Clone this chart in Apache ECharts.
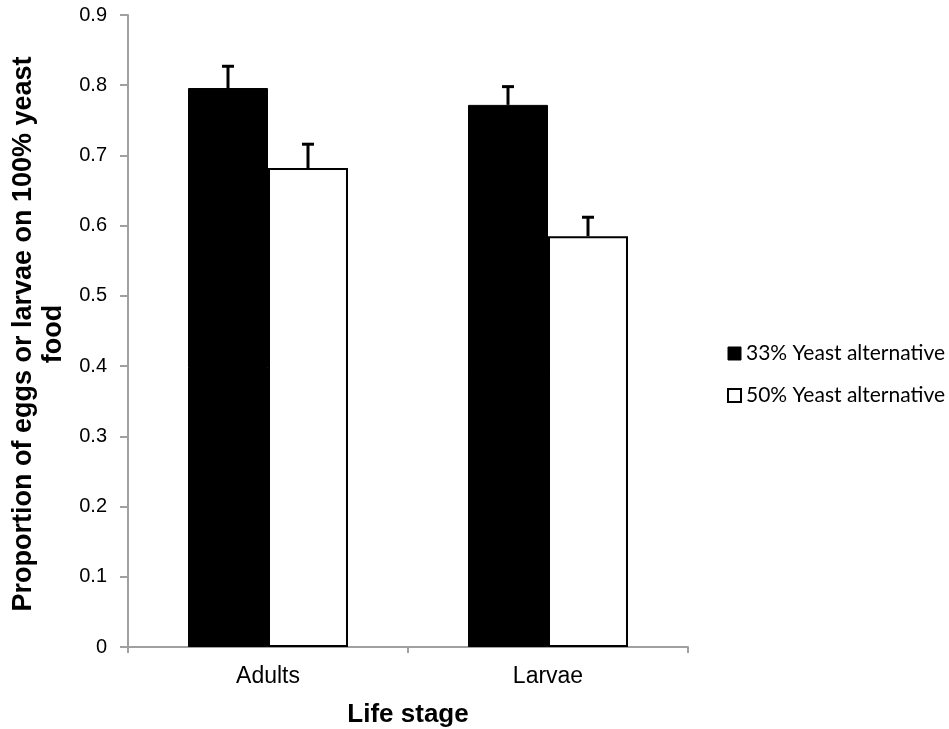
<!DOCTYPE html>
<html>
<head>
<meta charset="utf-8">
<script src="https://cdn.jsdelivr.net/npm/echarts@6/dist/echarts.min.js"></script>
<style>html,body{margin:0;padding:0;background:#fff;}#c{width:949px;height:729px;}</style>
</head>
<body>
<div id="c"></div>
<script>
const categories = ['Adults', 'Larvae'];
const yeast33 = [0.796, 0.772];
const yeast50 = [0.682, 0.585];
const err33 = [0.031, 0.026];
const err50 = [0.034, 0.027];
const yTicks = [0, 0.1, 0.2, 0.3, 0.4, 0.5, 0.6, 0.7, 0.8, 0.9];
const seriesNames = ['33% Yeast alternative', '50% Yeast alternative'];
const yTitle = 'Proportion of eggs or larvae on 100% yeast\nfood';
const xTitle = 'Life stage';

const BAR_W = 80;

function errSeries(vals, errs, offset) {
  return {
    type: 'custom',
    z: 10,
    silent: true,
    data: vals.map((v, i) => [i, v, v + errs[i]]),
    renderItem: function (params, api) {
      const base = api.coord([api.value(0), api.value(1)]);
      const top = api.coord([api.value(0), api.value(2)]);
      const x = base[0] + offset;
      const cap = 6;
      return {
        type: 'group',
        children: [
          { type: 'line', shape: { x1: x, y1: base[1], x2: x, y2: top[1] }, style: { stroke: '#000', lineWidth: 3 } },
          { type: 'line', shape: { x1: x - cap, y1: top[1], x2: x + cap, y2: top[1] }, style: { stroke: '#000', lineWidth: 3 } }
        ]
      };
    }
  };
}

const chart = echarts.init(document.getElementById('c'));
chart.setOption({
  animation: false,
  backgroundColor: '#fff',
  grid: { left: 128, right: 261, top: 15, bottom: 82, outerBoundsMode: 'none', containLabel: false },
  legend: {
    orient: 'vertical',
    left: 722,
    top: 338,
    itemGap: 21,
    itemWidth: 13,
    itemHeight: 13,
    icon: 'rect',
    textStyle: { fontFamily: 'Lato', fontSize: 21, color: '#000' },
    data: [
      { name: seriesNames[0], itemStyle: { color: '#000', borderColor: '#000', borderWidth: 1 } },
      { name: seriesNames[1], itemStyle: { color: '#fff', borderColor: '#000', borderWidth: 2 } }
    ]
  },
  xAxis: {
    type: 'category',
    data: categories,
    name: xTitle,
    nameLocation: 'middle',
    nameGap: 55,
    nameTextStyle: { fontFamily: 'Liberation Sans', fontSize: 26, fontWeight: 'bold', color: '#000' },
    axisLine: { lineStyle: { color: '#a0a0a0', width: 2 } },
    axisTick: { show: true, length: 6, lineStyle: { color: '#a0a0a0', width: 2 } },
    axisLabel: { fontFamily: 'Liberation Sans', fontSize: 23, color: '#000', margin: 18 }
  },
  yAxis: {
    type: 'value',
    min: 0,
    max: 0.9,
    interval: 0.1,
    splitLine: { show: false },
    axisLine: { show: true, lineStyle: { color: '#a0a0a0', width: 2 } },
    axisTick: { show: true, length: 8, lineStyle: { color: '#a0a0a0', width: 2 } },
    axisLabel: {
      fontFamily: 'Liberation Sans', fontSize: 20, color: '#000', margin: 21,
      formatter: function (v) {
        const t = yTicks.find(x => Math.abs(x - v) < 1e-9);
        return t === undefined ? '' : String(t);
      }
    }
  },
  graphic: [{
    type: 'text',
    rotation: Math.PI / 2,
    x: 9, y: 334,
    style: {
      text: yTitle,
      fontFamily: 'Liberation Sans',
      fontSize: 27,
      fontWeight: 'bold',
      fill: '#000',
      align: 'center',
      verticalAlign: 'top',
      lineHeight: 30
    }
  }],
  series: [
    {
      name: seriesNames[0],
      type: 'bar',
      barWidth: BAR_W,
      barGap: '0%',
      data: yeast33,
      itemStyle: { color: '#000', borderColor: '#000', borderWidth: 1 }
    },
    {
      name: seriesNames[1],
      type: 'bar',
      barWidth: BAR_W,
      barGap: '0%',
      data: yeast50,
      itemStyle: { color: '#fff', borderColor: '#000', borderWidth: 2 }
    },
    errSeries(yeast33, err33, -BAR_W / 2),
    errSeries(yeast50, err50, BAR_W / 2)
  ]
});
</script>
</body>
</html>
